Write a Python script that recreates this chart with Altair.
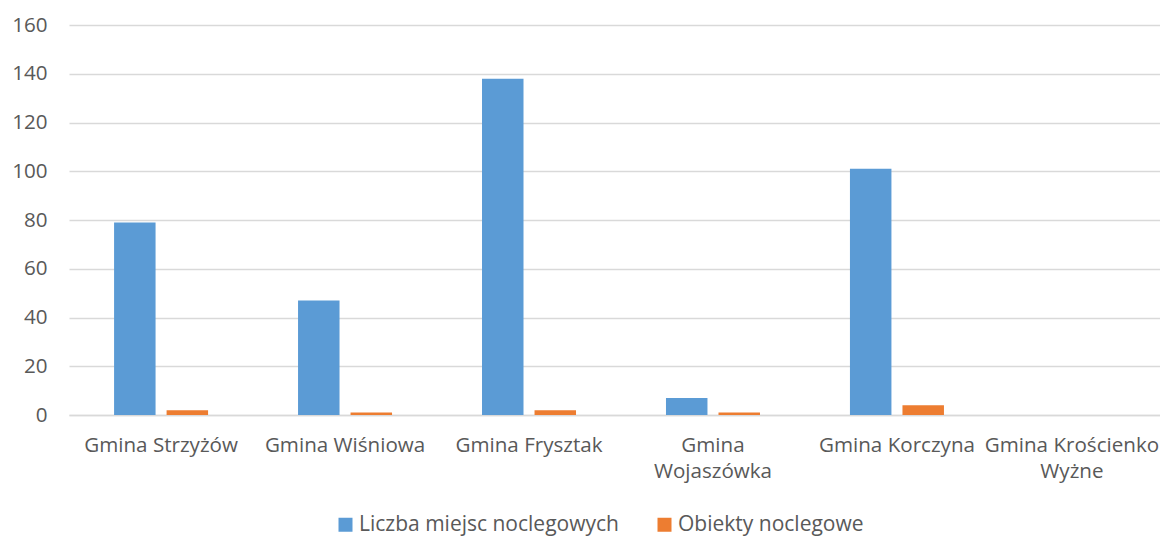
import altair as alt
import pandas as pd
import json

categories = ["Gmina Strzyżów", "Gmina Wiśniowa", "Gmina Frysztak",
              "Gmina Wojaszówka", "Gmina Korczyna", "Gmina Krościenko Wyżne"]
label_lines = [["Gmina Strzyżów"], ["Gmina Wiśniowa"], ["Gmina Frysztak"],
               ["Gmina", "Wojaszówka"], ["Gmina Korczyna"], ["Gmina Krościenko", "Wyżne"]]
series = ["Liczba miejsc noclegowych", "Obiekty noclegowe"]
miejsca = [79, 47, 138, 7, 101, 0]
obiekty = [2, 1, 2, 1, 4, 0]
colors = ["#5B9BD5", "#ED7D31"]
y_ticks = [0, 20, 40, 60, 80, 100, 120, 140, 160]

rows = []
for c, a, b in zip(categories, miejsca, obiekty):
    rows.append({"gmina": c, "seria": series[0], "wartosc": a})
    rows.append({"gmina": c, "seria": series[1], "wartosc": b})
df = pd.DataFrame(rows)

expr = "datum.label"
for c, lines in zip(categories, label_lines):
    if len(lines) > 1:
        expr = f"datum.value == {json.dumps(c, ensure_ascii=False)} ? {json.dumps(lines, ensure_ascii=False)} : " + expr

last_test = f"datum.value == {json.dumps(categories[-1], ensure_ascii=False)}"

FONT = "Open Sans"
TXT = "#595959"

chart = alt.Chart(df).mark_bar().encode(
    x=alt.X("gmina:N", sort=categories, title=None,
            scale=alt.Scale(paddingInner=0.489, paddingOuter=0.245, range=[0, 1104]),
            axis=alt.Axis(labelAngle=0, labelExpr=expr, labelFontSize=20.6, labelFont=FONT,
                          labelColor=TXT, labelPadding=20, labelLineHeight=26,
                          labelBaseline="top", ticks=False, domainColor="#D9D9D9",
                          domainWidth=1.5, labelLimit=300,
                          labelOffset={"condition": {"test": last_test, "value": -9}, "value": 0})),
    xOffset=alt.XOffset("seria:N", sort=series,
                        scale=alt.Scale(paddingInner=0.21, paddingOuter=0)),
    y=alt.Y("wartosc:Q", title=None,
            scale=alt.Scale(domain=[0, 160], nice=False),
            axis=alt.Axis(values=y_ticks, labelFontSize=20.6, labelFont=FONT, labelColor=TXT,
                          labelPadding=22, ticks=False, domain=False,
                          gridColor="#D9D9D9", gridWidth=1.5)),
    color=alt.Color("seria:N", sort=series,
                    scale=alt.Scale(domain=series, range=colors),
                    legend=alt.Legend(title=None, orient="none", direction="horizontal",
                                      legendX=266, legendY=489, symbolType="square",
                                      symbolSize=196, symbolStrokeWidth=0, symbolOpacity=1,
                                      labelFontSize=21, labelFont=FONT, labelColor=TXT,
                                      labelOffset=3, columnPadding=35, labelLimit=400)),
).properties(
    width=1091, height=390,
    autosize=alt.AutoSizeParams(type="none"),
    padding={"left": 61, "top": 17, "right": 0, "bottom": 121},
).configure_view(stroke=None)

chart.save("out.html", embed_options={"renderer": "svg", "actions": False})
